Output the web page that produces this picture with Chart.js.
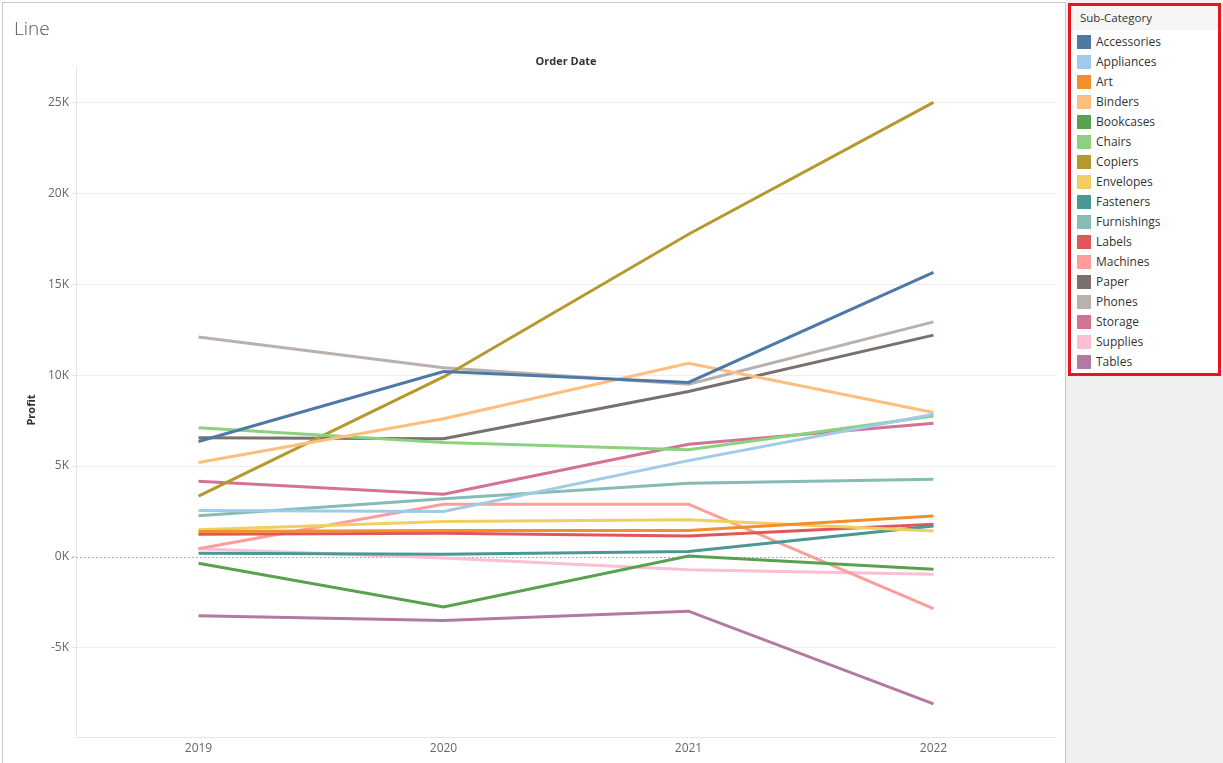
<!DOCTYPE html>
<html>
<head>
<meta charset="utf-8">
<script src="https://cdn.jsdelivr.net/npm/chart.js@4.4.1/dist/chart.umd.min.js"></script>
<style>
  html, body { margin: 0; padding: 0; width: 1223px; height: 763px; overflow: hidden; background: #fff; font-family: "Open Sans", "DejaVu Sans", sans-serif; }
  #panel { position: absolute; left: 0; top: 0; width: 1066px; height: 763px; background: #fff; }
  #frame { position: absolute; left: 2px; top: 2px; width: 1064px; height: 770px; border-left: 1px solid #c8c8c8; border-top: 1px solid #c8c8c8; border-right: 1px solid #c8c8c8; box-sizing: border-box; pointer-events: none; }
  #chartWrap { position: absolute; left: 0; top: 0; width: 1066px; height: 763px; }
  #title { position: absolute; left: 14px; top: 15px; font-size: 19px; color: #555; font-weight: 300; }
  #colHeader { position: absolute; left: 76px; width: 980px; top: 53px; text-align: center; font-size: 11px; font-weight: bold; color: #333; }
  #yTitle { position: absolute; left: 30px; top: 410px; transform: translate(-50%, -50%) rotate(-90deg); font-size: 11px; font-weight: bold; color: #333; white-space: nowrap; }
  #side { position: absolute; left: 1066px; top: 0; width: 157px; height: 763px; background: #f0f0f0; }
  #legend { position: absolute; left: 1068px; top: 3px; width: 153px; height: 373px; box-sizing: border-box; border: 3px solid #e8141e; background: #fff; }
  #legHead { height: 24px; line-height: 24px; background: #f5f5f5; padding-left: 9px; font-size: 11.5px; color: #333; margin-top: 0px; }
  .item { position: absolute; left: 6px; height: 20px; font-size: 12px; color: #333; white-space: nowrap; }
  .sw { position: absolute; left: 0; top: 3px; width: 14px; height: 14px; }
  .lab { position: absolute; left: 19px; top: 0; line-height: 20px; }
</style>
</head>
<body>
<div id="panel">
  <div id="chartWrap"><canvas id="c" width="1066" height="763"></canvas></div>
  <div id="title">Line</div>
  <div id="colHeader">Order Date</div>
  <div id="yTitle">Profit</div>
</div>
<div id="frame"></div>
<div id="side"></div>
<div id="legend"><div id="legHead">Sub-Category</div></div>
<script>
const years = ["2019", "2020", "2021", "2022"];
const subCategories = ["Accessories","Appliances","Art","Binders","Bookcases","Chairs","Copiers","Envelopes","Fasteners","Furnishings","Labels","Machines","Paper","Phones","Storage","Supplies","Tables"];
const colors = ["#4e79a7","#a0cbe8","#f28e2b","#ffbe7d","#59a14f","#8cd17d","#b6992d","#f1ce63","#499894","#86bcb6","#e15759","#ff9d9a","#79706e","#bab0ac","#d37295","#fabfd2","#b07aa1"];

const accessories = [6350, 10200, 9600, 15650];
const appliances  = [2550, 2500, 5300, 7850];
const art         = [1400, 1450, 1450, 2250];
const binders     = [5200, 7600, 10650, 7950];
const bookcases   = [-350, -2750, 50, -680];
const chairs      = [7100, 6300, 5900, 7750];
const copiers     = [3350, 9900, 17750, 25000];
const envelopes   = [1500, 1950, 2050, 1430];
const fasteners   = [200, 150, 300, 1700];
const furnishings = [2270, 3200, 4050, 4280];
const labels      = [1250, 1300, 1150, 1800];
const machines    = [450, 2900, 2900, -2840];
const paper       = [6550, 6500, 9100, 12200];
const phones      = [12100, 10400, 9500, 12930];
const storage     = [4160, 3450, 6200, 7350];
const supplies    = [450, -50, -700, -950];
const tables      = [-3230, -3500, -2980, -8080];

const yTicks = [-5000, 0, 5000, 10000, 15000, 20000, 25000];

const series = [accessories, appliances, art, binders, bookcases, chairs, copiers, envelopes, fasteners, furnishings, labels, machines, paper, phones, storage, supplies, tables];

const datasets = subCategories.map((name, i) => ({
  label: name,
  data: series[i],
  borderColor: colors[i],
  backgroundColor: colors[i],
  borderWidth: 3,
  pointRadius: 0,
  pointHoverRadius: 0,
  tension: 0,
  fill: false
}));

// HTML legend
const leg = document.getElementById('legend');
subCategories.forEach((name, i) => {
  const d = document.createElement('div');
  d.className = 'item';
  d.style.top = (26 + i * 20) + 'px';
  d.innerHTML = '<span class="sw" style="background:' + colors[i] + '"></span><span class="lab">' + name + '</span>';
  leg.appendChild(d);
});

const zeroLine = {
  id: 'zeroLine',
  beforeDatasetsDraw(chart) {
    const y = chart.scales.y.getPixelForValue(0);
    const ctx = chart.ctx;
    ctx.save();
    ctx.strokeStyle = '#b0b0b0';
    ctx.lineWidth = 1;
    ctx.setLineDash([2, 2]);
    ctx.beginPath();
    ctx.moveTo(72, Math.round(y) + 0.5);
    ctx.lineTo(chart.chartArea.right, Math.round(y) + 0.5);
    ctx.stroke();
    ctx.restore();
  }
};

new Chart(document.getElementById('c'), {
  type: 'line',
  data: { labels: years, datasets },
  options: {
    responsive: false,
    animation: false,
    devicePixelRatio: 1,
    layout: { padding: { left: 0, right: 10, top: 66, bottom: 0 } },
    plugins: { legend: { display: false }, tooltip: { enabled: false } },
    scales: {
      x: {
        type: 'category',
        offset: true,
        grid: { display: false, drawTicks: false },
        border: { display: true, color: '#e6e6e6', width: 1 },
        ticks: { color: '#666', font: { family: '"Open Sans", sans-serif', size: 12 }, padding: 4 },
        afterFit(scale) { scale.height = 26; }
      },
      y: {
        min: -9900,
        max: 27000,
        afterBuildTicks(scale) { scale.ticks = yTicks.map(v => ({ value: v })); },
        grid: {
          color: ctx => (ctx.tick && ctx.tick.value === 0) ? 'rgba(0,0,0,0)' : '#efefef',
          tickColor: '#e6e6e6',
          tickLength: 4,
          lineWidth: 1
        },
        border: { display: true, color: '#e6e6e6', width: 1 },
        ticks: {
          color: '#666',
          font: { family: '"Open Sans", sans-serif', size: 12 },
          padding: 3,
          callback: v => (v / 1000) + 'K'
        },
        afterFit(scale) { scale.width = 76; }
      }
    }
  },
  plugins: [zeroLine]
});
</script>
</body>
</html>
